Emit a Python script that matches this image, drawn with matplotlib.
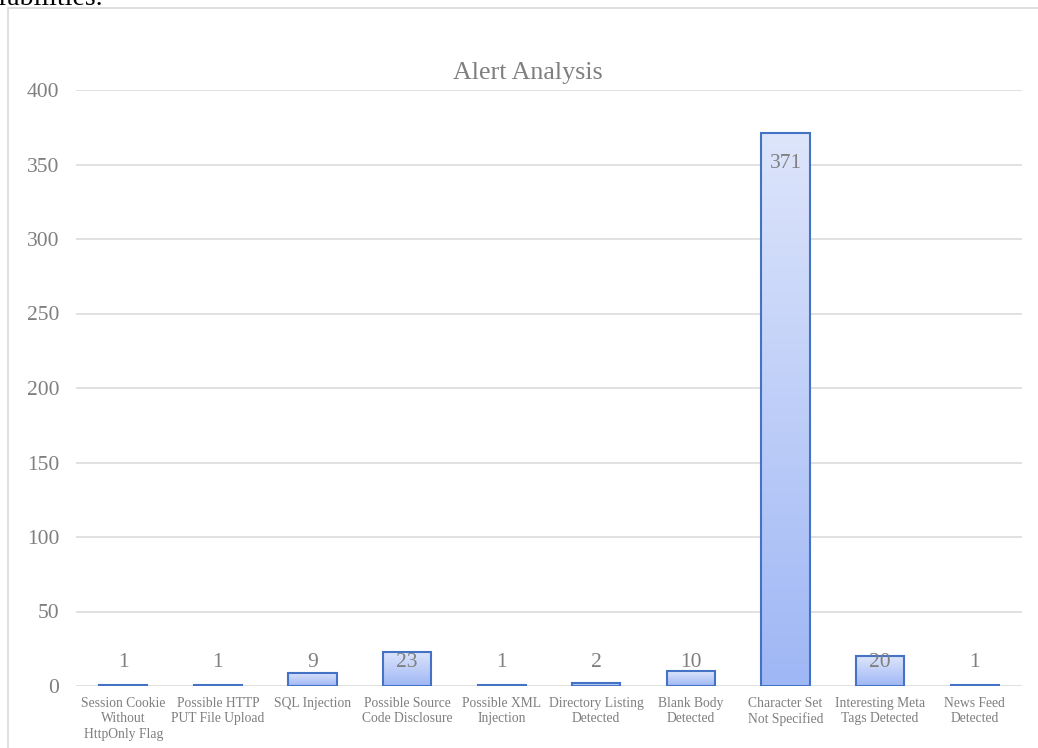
import matplotlib
matplotlib.use("Agg")
import matplotlib.pyplot as plt
import numpy as np
from matplotlib.patches import Rectangle
from matplotlib.colors import LinearSegmentedColormap

categories = ["Session Cookie\nWithout\nHttpOnly Flag", "Possible HTTP\nPUT File Upload",
              "SQL Injection", "Possible Source\nCode Disclosure", "Possible XML\nInjection",
              "Directory Listing\nDetected", "Blank Body\nDetected", "Character Set\nNot Specified",
              "Interesting Meta\nTags Detected", "News Feed\nDetected"]
values = [1, 1, 9, 23, 1, 2, 10, 371, 20, 1]
yticks = [0, 50, 100, 150, 200, 250, 300, 350, 400]
title = "Alert Analysis"

plt.rcParams['font.family'] = ['Liberation Serif', 'DejaVu Serif']
W, H = 1038, 748
fig = plt.figure(figsize=(W / 100, H / 100), dpi=100)
ax = fig.add_axes([76 / W, 1 - 686 / H, 946 / W, 596 / H])

gray = '#7f7f7f'
cmap = LinearSegmentedColormap.from_list('g', ['#9fb7f5', '#dde5fb'])
bw = 0.51
for i, v in enumerate(values):
    grad = np.linspace(1, 0, 100).reshape(-1, 1)
    ax.imshow(grad, extent=[i - bw / 2, i + bw / 2, 0, v], aspect='auto', cmap=cmap,
              vmin=0, vmax=1, zorder=2, interpolation='bicubic')
    ax.add_patch(Rectangle((i - bw / 2, 0), bw, v, facecolor='none', edgecolor='#4472c4',
                           linewidth=1.5, zorder=3))
    yc = max(v - 20, 15.5)
    ax.text(i, yc, str(v), ha='center', va='center', fontsize=15.5, color=gray, zorder=4)

ax.set_xlim(-0.5, len(values) - 0.5)
ax.set_ylim(0, 400)
ax.set_yticks(yticks)
ax.set_xticks(range(len(values)))
ax.set_xticklabels(categories, fontsize=9.8, color=gray, linespacing=1.22)
ax.tick_params(axis='y', labelsize=15.5, labelcolor=gray, length=0, pad=12)
ax.tick_params(axis='x', length=0, pad=8)
for s in ax.spines.values():
    s.set_visible(False)
ax.yaxis.grid(True, color='#d9d9d9', linewidth=1.1, zorder=0)
ax.set_axisbelow(True)

fig.text(528 / W, 1 - 73 / H, title, ha='center', va='center', fontsize=18.7, color=gray)
fig.text(-2 / W, 1 - 5 / H, 'rabilities.', ha='left', va='baseline', fontsize=20, color='black')
fig.add_artist(Rectangle((8 / W, -0.05), 1.1, 1 - 8 / H + 0.05, transform=fig.transFigure,
                         facecolor='none', edgecolor='#d9d9d9', linewidth=1.2))

fig.savefig('out.png', dpi=100)
